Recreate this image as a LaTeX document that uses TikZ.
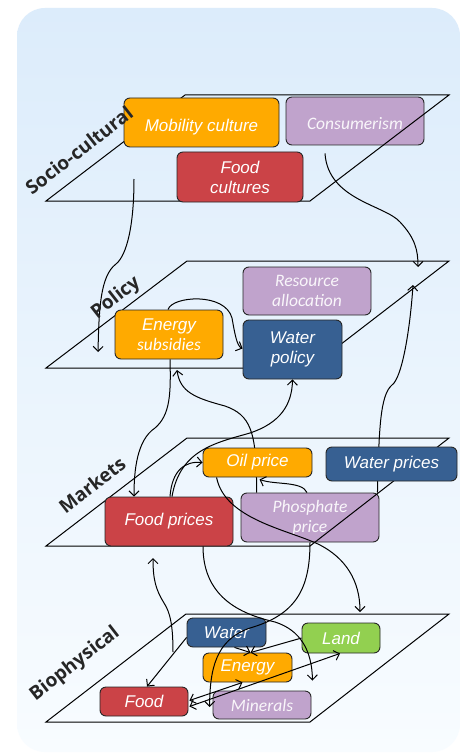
\documentclass[tikz,border=0pt]{standalone}
\usepackage{fontspec}
\setmainfont{Liberation Sans}
\newfontfamily\carl{Carlito}
\newfontfamily\lblf{Open Sans}
\usetikzlibrary{arrows.meta,calc}
\definecolor{cOrange}{HTML}{FFAA00}
\definecolor{cRed}{HTML}{CB4347}
\definecolor{cPurple}{HTML}{C0A3CC}
\definecolor{cBlue}{HTML}{376092}
\definecolor{cGreen}{HTML}{92D050}
\definecolor{cLbl}{HTML}{262626}
\definecolor{bgTop}{HTML}{DCECFB}
\definecolor{bgBot}{HTML}{F8FCFF}
\begin{document}
\begin{tikzpicture}[x=1pt,y=-1pt,
  box/.style={draw=black!85, line width=0.9pt, rounded corners=6pt, inner sep=0pt, align=center, text=white, font=\itshape\fontsize{17}{20}\selectfont},
  pbox/.style={box, fill=cPurple, font=\carl\itshape\fontsize{17.5}{20}\selectfont, text=white!90!cPurple},
  low/.style={text height=22pt, text depth=4pt},
  plane/.style={draw=black, line width=1pt},
  lbl/.style={font=\lblf\bfseries\fontsize{19}{19}\selectfont, text=cLbl, rotate=38, inner sep=0pt},
  arr/.style={draw=black, line width=1pt, -{Straight Barb[length=5pt,width=10pt]}},
  darr/.style={arr, {Straight Barb[length=5pt,width=10pt]}-{Straight Barb[length=5pt,width=10pt]}}
]
\useasboundingbox (0,0) rectangle (467,754);
\fill[white] (0,0) rectangle (467,754);
\shade[top color=bgTop, bottom color=bgBot, rounded corners=28pt] (17,8) rectangle (460,752);

% purple boxes (under plane edges)
\node[pbox, low, minimum width=138pt, minimum height=48pt] (cons) at (355,121) {Consumerism};
\node[pbox, minimum width=128pt, minimum height=48pt] (res) at (307,291) {Resource\\allocation};
\node[pbox, minimum width=138pt, minimum height=49pt] (phos) at (310,517.5) {Phosphate\\price};
\node[pbox, minimum width=98pt, minimum height=28pt] (min) at (262,705) {Minerals};

% planes
\draw[plane] (185,95) -- (449,95) -- (310,201) -- (46,201) -- cycle;
\draw[plane] (187,261) -- (449,261) -- (310,368) -- (46,368) -- cycle;
\draw[plane] (187,438) -- (449,438) -- (310,546) -- (46,546) -- cycle;
\draw[plane] (186,614) -- (449,614) -- (310,722) -- (46,722) -- cycle;

% free ends
\coordinate (s1) at (134,179);
\coordinate (p1) at (98,352);
\coordinate (p2) at (418,267);
\coordinate (p3) at (413,285);
\coordinate (p4) at (177,370);
\coordinate (b1) at (173,652);
\coordinate (fpTip) at (153,558);
\coordinate (b2) at (360,612);

% arrows passing under boxes
\draw[arr] ($(phos.north east)+(-2,0)$) .. controls (379,430) and (380,395) .. (392,385) .. controls (402,378) and (410,330) .. (p3);
\draw[arr] ($(phos.north west)+(16,0)$) .. controls (257,430) and (250,415) .. (225,406) .. controls (195,398) and (180,392) .. (p4);

% other boxes
\node[box, low, fill=cOrange, minimum width=155pt, minimum height=49pt] (mob) at (201.5,122.5) {Mobility culture};
\node[box, fill=cRed, minimum width=126pt, minimum height=50pt] (foodc) at (240,177) {Food\\cultures};
\node[box, fill=cOrange, minimum width=108pt, minimum height=49pt] (esub) at (169,334.5) {Energy\\{\carl\itshape\fontsize{17.5}{20}\selectfont subsidies}};
\node[box, fill=cBlue, minimum width=99pt, minimum height=59pt] (wpol) at (292.5,349.5) {Water\\policy};
\node[box, fill=cOrange, minimum width=109pt, minimum height=29pt] (oil) at (257.5,462.5) {Oil price};
\node[box, fill=cBlue, minimum width=131pt, minimum height=34pt] (wpr) at (391.5,464) {Water prices};
\node[box, fill=cRed, minimum width=128pt, minimum height=49pt] (fpr) at (169,521.5) {Food prices};
\node[box, fill=cBlue, minimum width=79pt, minimum height=29pt] (water) at (226.5,632.5) {Water};
\node[box, fill=cGreen, minimum width=78pt, minimum height=30pt] (land) at (341,638) {Land};
\node[box, fill=cOrange, minimum width=89pt, minimum height=29pt] (energy) at (247.5,667.5) {Energy};
\node[box, fill=cRed, minimum width=88pt, minimum height=29pt] (food) at (144,701.5) {Food};

% arrows on top
\draw[arr] (s1) .. controls (134,225) and (127,255) .. (116,264) .. controls (100,276) and (99,310) .. (p1);
\draw[arr] ($(cons.south)+(-30,8)$) .. controls (328,200) and (385,205) .. (400,222) .. controls (415,238) and (418,250) .. (p2);
\draw[arr] ($(esub.north)+(-1,0)$) .. controls (172,296) and (225,292) .. (232,318) .. controls (235,335) and (237,346) .. ($(wpol.west)+(0,-1)$);
\draw[arr] ($(esub.south)+(1,0)$) .. controls (171,395) and (170,415) .. (155,428) .. controls (137,440) and (134,470) .. ($(fpr.north)+(-35,0)$);
\draw[arr] ($(phos.north)+(-3,0)$) .. controls (302,481) and (275,485) .. ($(oil.south)+(2,2)$);
\draw[arr] ($(fpr.north)+(1,0)$) .. controls (172,470) and (185,461) .. (oil.west);
\draw[arr] ($(fpr.north)+(3,0)$) .. controls (180,450) and (215,443) .. (250,433) .. controls (280,423) and (292,405) .. (wpol.south);
\draw[arr] ($(oil.south west)+(14,0)$) .. controls (225,520) and (290,530) .. (320,545) .. controls (345,558) and (360,580) .. (b2);
\draw[arr] (phos.south) .. controls (310,590) and (295,615) .. (250,628) .. controls (215,640) and (210,670) .. ($(min.west)+(-3,2)$);
\draw[arr] ($(fpr.south)+(34,0)$) .. controls (203,600) and (245,615) .. (275,622) .. controls (300,630) and (312,650) .. ($(min.north east)+(1,-10)$);
\draw[arr] (b1) .. controls (173,625) and (170,612) .. (164,603) .. controls (156,590) and (153,580) .. (fpTip);
\draw[arr] ($(water.south west)+(0,-10)$) -- ($(food.north)+(3,0)$);
\draw[arr] ($(water.south)+(8,0)$) -- ($(energy.north)+(3,0)$);
\draw[arr] (land.west) -- ($(energy.north)+(3,0)$);
\draw[darr] ($(food.east)+(1,-1)$) -- ($(energy.south)+(-5,0)$);
\draw[darr] ($(food.east)+(1,5)$) -- ($(land.south)+(-1,0)$);

% layer labels
\node[lbl] (lsoc) at (79,150) {Socio-cultural};
\node[lbl] (lpol) at (116,298) {Policy};
\node[lbl] (lmkt) at (92,485) {Markets};
\node[lbl] (lbio) at (75,664) {Biophysical};
\end{tikzpicture}
\end{document}
